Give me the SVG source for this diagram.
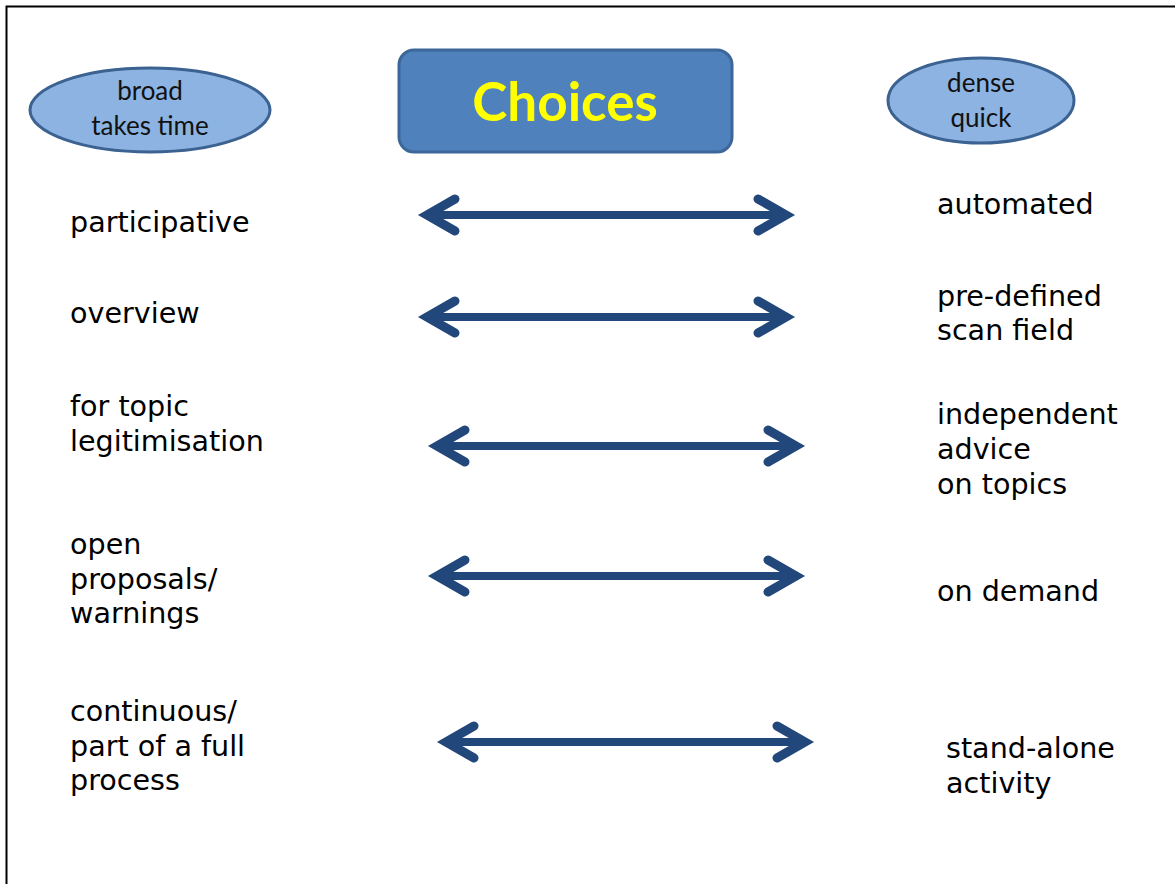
<svg xmlns="http://www.w3.org/2000/svg" width="1175" height="884" viewBox="0 0 1175 884">
<defs>
<style>
.lbl{font-family:"DejaVu Sans","Verdana",sans-serif;font-size:28.6px;fill:#000}
.ell{fill:#8DB3E2;stroke:#3B6291;stroke-width:3}
.etx{font-family:"Lato","Liberation Sans",sans-serif;font-size:26px;fill:#111;text-anchor:middle}
.shaft{fill:none;stroke:#22477A;stroke-width:8}
.head{fill:none;stroke:#22477A;stroke-width:9;stroke-linecap:round;stroke-linejoin:miter;stroke-miterlimit:10}
</style>
<g id="dbl">
<path class="shaft" d="M12 0 H365"/>
<path class="head" d="M37 -16 L9 0 L37 16"/>
<path class="head" d="M340 -16 L368 0 L340 16"/>
</g>
</defs>
<rect x="0" y="0" width="1175" height="884" fill="#fff"/>
<path d="M6.5 884 V6.5 H1175" fill="none" stroke="#000" stroke-width="2"/>

<g id="broad">
<ellipse class="ell" cx="150" cy="110" rx="120" ry="42"/>
<text class="etx" x="150" y="100">broad</text>
<text class="etx" x="150" y="135">takes time</text>
</g>
<g id="choices">
<rect x="399" y="50" width="333" height="102" rx="15" fill="#4F81BD" stroke="#3D6799" stroke-width="3"/>
<text x="565" y="121" font-family="Lato,'Liberation Sans',sans-serif" font-weight="bold" font-size="53" fill="#FFFF00" text-anchor="middle">Choices</text>
</g>
<g id="dense">
<ellipse class="ell" cx="981" cy="100.5" rx="93" ry="42.5"/>
<text class="etx" x="981" y="92">dense</text>
<text class="etx" x="981" y="127">quick</text>
</g>

<g id="connectors">
<use href="#dbl" x="418" y="215"/>
<use href="#dbl" x="418" y="317"/>
<use href="#dbl" x="428" y="446"/>
<use href="#dbl" x="428" y="576"/>
<use href="#dbl" x="437" y="742"/>
</g>

<g id="left1"><text class="lbl" x="70" y="232">participative</text></g>
<g id="left2"><text class="lbl" x="70" y="323">overview</text></g>
<g id="left3"><text class="lbl" x="70" y="416">for topic</text><text class="lbl" x="70" y="451">legitimisation</text></g>
<g id="left4"><text class="lbl" x="70" y="554">open</text><text class="lbl" x="70" y="589">proposals/</text><text class="lbl" x="70" y="623">warnings</text></g>
<g id="left5"><text class="lbl" x="70" y="721">continuous/</text><text class="lbl" x="70" y="756">part of a full</text><text class="lbl" x="70" y="790">process</text></g>

<g id="right1"><text class="lbl" x="937" y="214">automated</text></g>
<g id="right2"><text class="lbl" x="937" y="306">pre-defined</text><text class="lbl" x="937" y="340">scan field</text></g>
<g id="right3"><text class="lbl" x="937" y="424">independent</text><text class="lbl" x="937" y="459">advice</text><text class="lbl" x="937" y="494">on topics</text></g>
<g id="right4"><text class="lbl" x="937" y="601">on demand</text></g>
<g id="right5"><text class="lbl" x="946" y="758">stand-alone</text><text class="lbl" x="946" y="793">activity</text></g>
</svg>
